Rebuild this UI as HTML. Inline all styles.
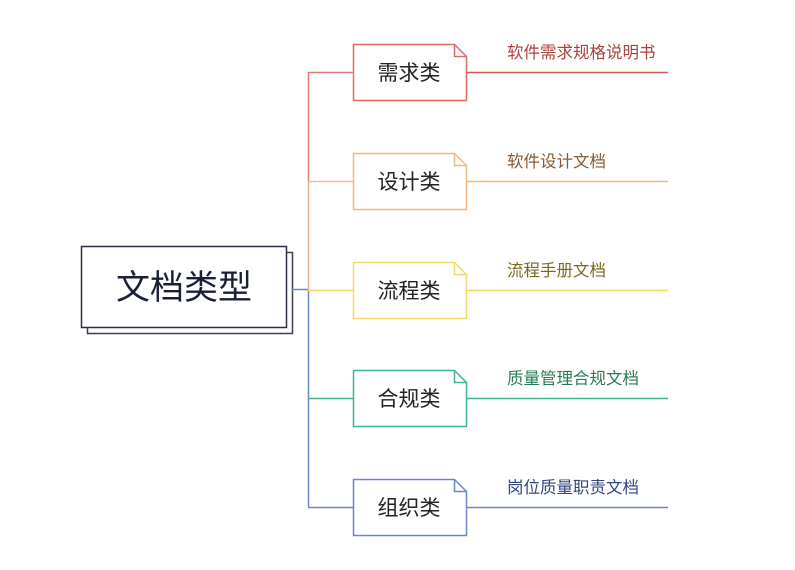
<!DOCTYPE html>
<html><head><meta charset="utf-8"><style>
html,body{margin:0;padding:0;background:#fff;}
svg{display:block;}
text{font-family:"Liberation Sans","Noto Sans CJK SC",sans-serif;}
</style></head><body>
<svg width="795" height="570" viewBox="0 0 795 570" xmlns="http://www.w3.org/2000/svg">
<rect x="87.5" y="252.5" width="205" height="81" fill="#fff" stroke="#3a3f55" stroke-width="1.5"/>
<rect x="81.5" y="246.5" width="205" height="81" fill="#fff" stroke="#2a2f45" stroke-width="1.5"/>
<text x="184" y="299" font-size="34" text-anchor="middle" fill="#1a1f35">文档类型</text>
<line x1="292" y1="289.5" x2="308" y2="289.5" stroke="#6a86c6" stroke-width="1.5"/>
<line x1="308.5" y1="72" x2="308.5" y2="181" stroke="#e07a70" stroke-width="1.5"/>
<line x1="308.5" y1="181" x2="308.5" y2="290" stroke="#e6ae94" stroke-width="1.5"/>
<line x1="308.5" y1="290" x2="308.5" y2="507" stroke="#6a86c6" stroke-width="1.5"/>
<g stroke-width="1.5" fill="#fff">
 <line x1="308" y1="72.5" x2="353" y2="72.5" stroke="#e07a70"/>
 <line x1="467" y1="72.5" x2="668" y2="72.5" stroke="#d9534f"/>
 <path d="M353.5 44.5 H454.5 L466.5 56.5 V100.5 H353.5 Z" stroke="#e06a64"/>
 <path d="M454.5 44.5 V56.5 H466.5" stroke="#e06a64" fill="none"/>
 <line x1="308" y1="181.5" x2="353" y2="181.5" stroke="#f2be8e"/>
 <line x1="467" y1="181.5" x2="668" y2="181.5" stroke="#f2b880"/>
 <path d="M353.5 153.5 H454.5 L466.5 165.5 V209.5 H353.5 Z" stroke="#f2b880"/>
 <path d="M454.5 153.5 V165.5 H466.5" stroke="#f2b880" fill="none"/>
 <line x1="308" y1="290.5" x2="353" y2="290.5" stroke="#f5d55a"/>
 <line x1="467" y1="290.5" x2="668" y2="290.5" stroke="#f5d55a"/>
 <path d="M353.5 262.5 H454.5 L466.5 274.5 V318.5 H353.5 Z" stroke="#f3d870"/>
 <path d="M454.5 262.5 V274.5 H466.5" stroke="#f3d870" fill="none"/>
 <line x1="308" y1="398.5" x2="353" y2="398.5" stroke="#3fb58e"/>
 <line x1="467" y1="398.5" x2="668" y2="398.5" stroke="#3fb58e"/>
 <path d="M353.5 370.5 H454.5 L466.5 382.5 V426.5 H353.5 Z" stroke="#3fb58e"/>
 <path d="M454.5 370.5 V382.5 H466.5" stroke="#3fb58e" fill="none"/>
 <line x1="308" y1="507.5" x2="353" y2="507.5" stroke="#6a86c6"/>
 <line x1="467" y1="507.5" x2="668" y2="507.5" stroke="#6a86c6"/>
 <path d="M353.5 479.5 H454.5 L466.5 491.5 V535.5 H353.5 Z" stroke="#6a86c6"/>
 <path d="M454.5 479.5 V491.5 H466.5" stroke="#6a86c6" fill="none"/>
</g>
<g font-size="21" fill="#222" text-anchor="middle">
 <text x="409" y="80">需求类</text>
 <text x="409" y="189">设计类</text>
 <text x="409" y="298">流程类</text>
 <text x="409" y="406">合规类</text>
 <text x="409" y="515">组织类</text>
</g>
<g font-size="16.5">
 <text x="507" y="58" fill="#a8443c">软件需求规格说明书</text>
 <text x="507" y="167" fill="#8a5a34">软件设计文档</text>
 <text x="507" y="276" fill="#7a6a20">流程手册文档</text>
 <text x="507" y="384" fill="#2a7a55">质量管理合规文档</text>
 <text x="507" y="493" fill="#34447e">岗位质量职责文档</text>
</g>
</svg>
</body></html>
